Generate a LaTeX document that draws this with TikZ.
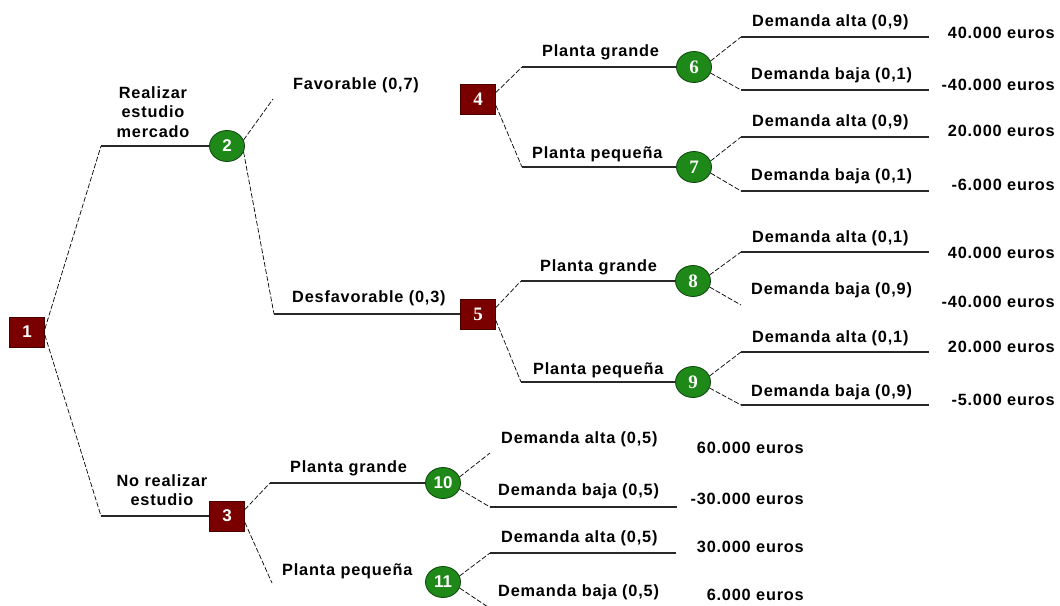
\documentclass[tikz,border=0pt]{standalone}
\usepackage{fontspec}
\setmainfont{Liberation Sans}
\newfontfamily\lblfont[LetterSpace=5]{Liberation Sans}
\newfontfamily\numserif{Liberation Serif}
\usetikzlibrary{shapes.geometric}
\definecolor{sqred}{RGB}{122,0,0}
\definecolor{sqedge}{RGB}{70,0,0}
\definecolor{cgreen}{RGB}{30,136,24}
\definecolor{cedge}{RGB}{12,70,10}
\definecolor{hline}{RGB}{40,40,40}
\tikzset{
  decbox/.style={draw=sqedge, line width=0.8pt, fill=sqred, rectangle, minimum width=35pt, minimum height=30pt, inner sep=0pt, text=white, font=\fontsize{17}{17}\selectfont\bfseries},
  chancenode/.style={draw=cedge, line width=0.8pt, fill=cgreen, ellipse, minimum width=35pt, minimum height=31pt, inner sep=0pt, text=white, font=\fontsize{17}{17}\selectfont\bfseries},
  serifnum/.style={font=\numserif\fontsize{19}{19}\selectfont\bfseries},
  lbl/.style={inner sep=0pt, font=\lblfont\fontsize{16.3}{19.5}\selectfont\bfseries},
  dashline/.style={draw=black, line width=0.7pt, dash pattern=on 5pt off 2pt},
  solidline/.style={draw=hline, line width=1.4pt}
}
\begin{document}
\begin{tikzpicture}[x=1pt,y=-1pt]
\useasboundingbox[fill=white] (0,0) rectangle (1060,605);

% decision / chance nodes
\node[decbox] (n1) at (27,332) {1};
\node[chancenode] (n2) at (227,146) {2};
\node[decbox] (n3) at (227,516) {3};
\node[decbox, serifnum] (n4) at (478,99) {4};
\node[decbox, serifnum] (n5) at (478,314) {5};
\node[chancenode, serifnum] (n6) at (694,67) {6};
\node[chancenode, serifnum] (n7) at (694,167) {7};
\node[chancenode, serifnum] (n8) at (693,281) {8};
\node[chancenode, serifnum] (n9) at (693,382) {9};
\node[chancenode] (n10) at (443,483) {10};
\node[chancenode] (n11) at (443,582) {11};

% bend coordinates
\coordinate (c12) at (101,146);
\coordinate (c13) at (101,516);
\coordinate (c2a) at (273,99);
\coordinate (c25) at (274,314);
\coordinate (c46) at (522,67);
\coordinate (c47) at (522,167);
\coordinate (c58) at (521,281);
\coordinate (c59) at (521,382);
\coordinate (c310) at (270,483);
\coordinate (c311) at (272,583);
\coordinate (c6a) at (741,37);  \coordinate (e6a) at (929,37);
\coordinate (c6b) at (741,90);  \coordinate (e6b) at (929,90);
\coordinate (c7a) at (741,137); \coordinate (e7a) at (929,137);
\coordinate (c7b) at (741,191); \coordinate (e7b) at (929,191);
\coordinate (c8a) at (741,252); \coordinate (e8a) at (929,252);
\coordinate (c8b) at (741,305);
\coordinate (c9a) at (741,352); \coordinate (e9a) at (929,352);
\coordinate (c9b) at (741,405); \coordinate (e9b) at (929,405);
\coordinate (c10a) at (490,453);
\coordinate (c10b) at (490,507); \coordinate (e10b) at (677,507);
\coordinate (c11a) at (490,553); \coordinate (e11a) at (676,553);
\coordinate (c11b) at (488,607);

% connectors
\draw[dashline] (n1.10) -- (c12);
\draw[solidline] (c12) -- (n2.west);
\draw[dashline] (n1.-10) -- (c13);
\draw[solidline] (c13) -- (n3.west);

\draw[dashline] (n2.20) -- (c2a);
\draw[dashline] (n2.-20) -- (c25);
\draw[solidline] (c25) -- (n5.west);

\draw[dashline] (n4.20) -- (c46);
\draw[solidline] (c46) -- (n6.west);
\draw[dashline] (n4.-20) -- (c47);
\draw[solidline] (c47) -- (n7.west);

\draw[dashline] (n5.20) -- (c58);
\draw[solidline] (c58) -- (n8.west);
\draw[dashline] (n5.-20) -- (c59);
\draw[solidline] (c59) -- (n9.west);

\draw[dashline] (n3.20) -- (c310);
\draw[solidline] (c310) -- (n10.west);
\draw[dashline] (n3.-20) -- (c311);

\draw[dashline] (n6.20) -- (c6a); \draw[solidline] (c6a) -- (e6a);
\draw[dashline] (n6.-20) -- (c6b); \draw[solidline] (c6b) -- (e6b);
\draw[dashline] (n7.20) -- (c7a); \draw[solidline] (c7a) -- (e7a);
\draw[dashline] (n7.-20) -- (c7b); \draw[solidline] (c7b) -- (e7b);
\draw[dashline] (n8.20) -- (c8a); \draw[solidline] (c8a) -- (e8a);
\draw[dashline] (n8.-20) -- (c8b);
\draw[dashline] (n9.20) -- (c9a); \draw[solidline] (c9a) -- (e9a);
\draw[dashline] (n9.-20) -- (c9b); \draw[solidline] (c9b) -- (e9b);
\draw[dashline] (n10.20) -- (c10a);
\draw[dashline] (n10.-20) -- (c10b); \draw[solidline] (c10b) -- (e10b);
\draw[dashline] (n11.20) -- (c11a); \draw[solidline] (c11a) -- (e11a);
\draw[dashline] (n11.-20) -- (c11b);

% branch labels
\node[lbl, align=center] (lrea) at (153,112) {Realizar\\estudio\\mercado};
\node[lbl, align=center] (lnor) at (162,490) {No realizar\\estudio};
\node[lbl, anchor=west] (lfav) at (293,85) {Favorable (0,7)};
\node[lbl, anchor=west] (ldes) at (292,298) {Desfavorable (0,3)};
\node[lbl, anchor=west] (lpg4) at (542,52) {Planta grande};
\node[lbl, anchor=west] (lpp4) at (532,154) {Planta pequeña};
\node[lbl, anchor=west] (lpg5) at (540,267) {Planta grande};
\node[lbl, anchor=west] (lpp5) at (533,370) {Planta pequeña};
\node[lbl, anchor=west] (lpg3) at (290,468) {Planta grande};
\node[lbl, anchor=west] (lpp3) at (282,571) {Planta pequeña};

\node[lbl, anchor=west] (d6a) at (752,22) {Demanda alta (0,9)};
\node[lbl, anchor=west] (d6b) at (751,75) {Demanda baja (0,1)};
\node[lbl, anchor=west] (d7a) at (752,122) {Demanda alta (0,9)};
\node[lbl, anchor=west] (d7b) at (751,176) {Demanda baja (0,1)};
\node[lbl, anchor=west] (d8a) at (752,238) {Demanda alta (0,1)};
\node[lbl, anchor=west] (d8b) at (751,290) {Demanda baja (0,9)};
\node[lbl, anchor=west] (d9a) at (752,338) {Demanda alta (0,1)};
\node[lbl, anchor=west] (d9b) at (751,392) {Demanda baja (0,9)};
\node[lbl, anchor=west] (d10a) at (501,439) {Demanda alta (0,5)};
\node[lbl, anchor=west] (d10b) at (498,491) {Demanda baja (0,5)};
\node[lbl, anchor=west] (d11a) at (501,538) {Demanda alta (0,5)};
\node[lbl, anchor=west] (d11b) at (498,592) {Demanda baja (0,5)};

% payoffs
\node[lbl, anchor=east] (v6a) at (1055,33) {40.000 euros};
\node[lbl, anchor=east] (v6b) at (1055,85) {-40.000 euros};
\node[lbl, anchor=east] (v7a) at (1055,131) {20.000 euros};
\node[lbl, anchor=east] (v7b) at (1055,185) {-6.000 euros};
\node[lbl, anchor=east] (v8a) at (1055,253) {40.000 euros};
\node[lbl, anchor=east] (v8b) at (1055,302) {-40.000 euros};
\node[lbl, anchor=east] (v9a) at (1055,347) {20.000 euros};
\node[lbl, anchor=east] (v9b) at (1055,400) {-5.000 euros};
\node[lbl, anchor=east] (v10a) at (804,448) {60.000 euros};
\node[lbl, anchor=east] (v10b) at (804,499) {-30.000 euros};
\node[lbl, anchor=east] (v11a) at (804,547) {30.000 euros};
\node[lbl, anchor=east] (v11b) at (804,595) {6.000 euros};
\end{tikzpicture}
\end{document}
